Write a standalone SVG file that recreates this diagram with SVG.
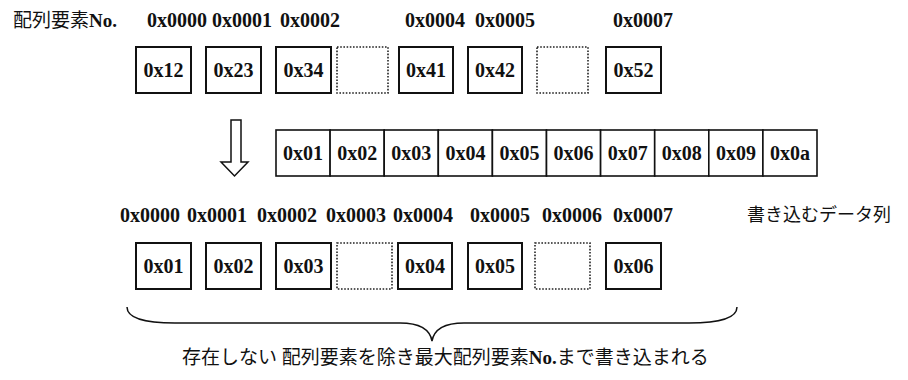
<svg xmlns="http://www.w3.org/2000/svg" width="908" height="380" viewBox="0 0 908 380">
<style>
.lbl{font-family:"Liberation Serif","Times New Roman",serif;font-weight:bold;font-size:20px;fill:#111}
.val{font-family:"Liberation Serif","Times New Roman",serif;font-weight:bold;font-size:20px;fill:#111;text-anchor:middle}
.jp{font-family:"Noto Sans CJK JP",sans-serif;font-size:18px;fill:#111}
.jpm{font-family:"Liberation Serif","Noto Sans CJK JP",serif;font-size:19px;fill:#111}
.box{fill:#fff;stroke:#111;stroke-width:2}
.dot{fill:#fff;stroke:#222;stroke-width:1.6;stroke-dasharray:1.6 1.6}
.cell{fill:#fff;stroke:#111;stroke-width:1.6}
.line{fill:none;stroke:#111;stroke-width:1.5}
</style>
<rect width="908" height="380" fill="#fff"/>

<g id="header-top">
<text class="jpm" x="13" y="27">配列要素<tspan font-weight="bold">No.</tspan></text>
<text class="lbl" x="147" y="27">0x0000</text>
<text class="lbl" x="212" y="27">0x0001</text>
<text class="lbl" x="280" y="27">0x0002</text>
<text class="lbl" x="405" y="27">0x0004</text>
<text class="lbl" x="475" y="27">0x0005</text>
<text class="lbl" x="613" y="27">0x0007</text>
</g>

<g id="top-0"><rect class="box" x="136" y="47" width="55" height="46"/><text class="val" x="163.5" y="77">0x12</text></g>
<g id="top-1"><rect class="box" x="206" y="47" width="55" height="46"/><text class="val" x="233.5" y="77">0x23</text></g>
<g id="top-2"><rect class="box" x="276" y="47" width="55" height="46"/><text class="val" x="303.5" y="77">0x34</text></g>
<g id="top-3"><rect class="dot" x="337" y="47" width="51" height="46"/></g>
<g id="top-4"><rect class="box" x="399" y="47" width="54" height="46"/><text class="val" x="426" y="77">0x41</text></g>
<g id="top-5"><rect class="box" x="468" y="47" width="54" height="46"/><text class="val" x="495" y="77">0x42</text></g>
<g id="top-6"><rect class="dot" x="537" y="47" width="51" height="46"/></g>
<g id="top-7"><rect class="box" x="606" y="47" width="55" height="46"/><text class="val" x="633.5" y="77">0x52</text></g>

<g id="data">
<rect class="cell" x="276" y="130" width="54.1" height="46"/><text class="val" x="303" y="160">0x01</text>
<rect class="cell" x="330.1" y="130" width="54.1" height="46"/><text class="val" x="357.2" y="160">0x02</text>
<rect class="cell" x="384.2" y="130" width="54.1" height="46"/><text class="val" x="411.3" y="160">0x03</text>
<rect class="cell" x="438.3" y="130" width="54.1" height="46"/><text class="val" x="465.4" y="160">0x04</text>
<rect class="cell" x="492.4" y="130" width="54.1" height="46"/><text class="val" x="519.5" y="160">0x05</text>
<rect class="cell" x="546.5" y="130" width="54.1" height="46"/><text class="val" x="573.6" y="160">0x06</text>
<rect class="cell" x="600.6" y="130" width="54.1" height="46"/><text class="val" x="627.7" y="160">0x07</text>
<rect class="cell" x="654.7" y="130" width="54.1" height="46"/><text class="val" x="681.8" y="160">0x08</text>
<rect class="cell" x="708.8" y="130" width="54.1" height="46"/><text class="val" x="735.9" y="160">0x09</text>
<rect class="cell" x="762.9" y="130" width="54.1" height="46"/><text class="val" x="790" y="160">0x0a</text>
</g>

<g id="header-bottom">
<text class="lbl" x="120" y="222">0x0000</text>
<text class="lbl" x="187" y="222">0x0001</text>
<text class="lbl" x="257" y="222">0x0002</text>
<text class="lbl" x="326" y="222">0x0003</text>
<text class="lbl" x="393" y="222">0x0004</text>
<text class="lbl" x="470" y="222">0x0005</text>
<text class="lbl" x="542" y="222">0x0006</text>
<text class="lbl" x="613" y="222">0x0007</text>
<text class="jp" x="747" y="221">書き込むデータ列</text>
</g>

<g id="bot-0"><rect class="box" x="136" y="243" width="55" height="46"/><text class="val" x="163.5" y="273">0x01</text></g>
<g id="bot-1"><rect class="box" x="206" y="243" width="55" height="46"/><text class="val" x="233.5" y="273">0x02</text></g>
<g id="bot-2"><rect class="box" x="276" y="243" width="55" height="46"/><text class="val" x="303.5" y="273">0x03</text></g>
<g id="bot-3"><rect class="dot" x="337" y="243" width="55" height="46"/></g>
<g id="bot-4"><rect class="box" x="398" y="243" width="54" height="46"/><text class="val" x="425" y="273">0x04</text></g>
<g id="bot-5"><rect class="box" x="468" y="243" width="54" height="46"/><text class="val" x="495" y="273">0x05</text></g>
<g id="bot-6"><rect class="dot" x="535" y="243" width="55" height="46"/></g>
<g id="bot-7"><rect class="box" x="606" y="243" width="55" height="46"/><text class="val" x="633.5" y="273">0x06</text></g>

<g id="connectors">
<path class="line" d="M231,120 H241 V162 H248 L234.5,176 L221,162 H231 Z" fill="#fff"/>
<path class="line" d="M127,307 C127,318 145,323 175,323 L400,323 C420,323 430,330 432,341 C434,330 444,323 464,323 L689,323 C719,323 737,318 737,307"/>
</g>

<g id="caption">
<text class="jpm" x="182" y="364" font-size="17.6">存在しない 配列要素を除き最大配列要素<tspan font-weight="bold">No.</tspan>まで書き込まれる</text>
</g>
</svg>
